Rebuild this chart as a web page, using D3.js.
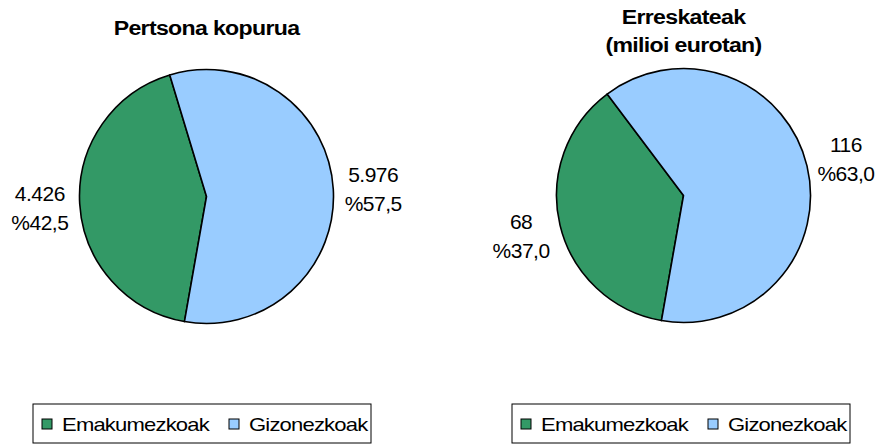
<!DOCTYPE html>
<html>
<head>
<meta charset="utf-8">
<script src="https://cdn.jsdelivr.net/npm/d3@7"></script>
<style>
  body { margin: 0; background: #fff; }
  svg text { font-family: "Liberation Sans", Arial, sans-serif; fill: #000; }
</style>
</head>
<body>
<div id="chart"></div>
<script>
// data
const categories = ['Emakumezkoak', 'Gizonezkoak'];
const colors = ['#339966', '#99ccff'];

const personValues = [4426, 5976];
const personPercent = [42.5, 57.5];

const rescueValues = [68, 116];
const rescuePercent = [37.0, 63.0];

const titles = [['Pertsona kopurua'], ['Erreskateak', '(milioi eurotan)']];

const width = 880, height = 446;

const svg = d3.select('#chart')
    .append('svg')
    .attr('width', width)
    .attr('height', height);

// basque style numbers: 4.426 and %42,5
const locale = d3.formatLocale({ decimal: ',', thousands: '.', grouping: [3], currency: ['', ''] });
const fmtValue = locale.format(',d');
const fmtPct = v => '%' + locale.format('.1f')(v);

const charts = [
    { cx: 206.5, cy: 196.5, values: personValues, pcts: personPercent, title: titles[0], titleY: 35, legendX: 33 },
    { cx: 683.5, cy: 195.5, values: rescueValues, pcts: rescuePercent, title: titles[1], titleY: 24, legendX: 512 }
];

const radius = 127;
const labelRadius = 167;
const start = 190 * Math.PI / 180;

const pie = d3.pie().sort(null).startAngle(start).endAngle(start + 2 * Math.PI);
const arc = d3.arc().innerRadius(0).outerRadius(radius);
const labelArc = d3.arc().innerRadius(labelRadius).outerRadius(labelRadius);

charts.forEach(c => {
    const g = svg.append('g').attr('transform', `translate(${c.cx},${c.cy})`);
    const arcs = pie(c.values);

    g.selectAll('path')
        .data(arcs)
        .enter()
        .append('path')
        .attr('d', arc)
        .attr('fill', (d, i) => colors[i])
        .attr('stroke', '#000')
        .attr('stroke-width', 1.6)
        .attr('stroke-linejoin', 'round');

    // value + percent labels outside the pie
    const lab = g.selectAll('g.lab')
        .data(arcs)
        .enter()
        .append('g')
        .attr('class', 'lab')
        .attr('transform', d => {
            const p = labelArc.centroid(d);
            return `translate(${p[0]},${p[1]})`;
        });
    lab.append('text')
        .attr('text-anchor', 'middle')
        .attr('y', -5)
        .style('font-size', '21px')
        .style('letter-spacing', '-0.5px')
        .text((d, i) => fmtValue(c.values[i]));
    lab.append('text')
        .attr('text-anchor', 'middle')
        .attr('y', 24)
        .style('font-size', '21px')
        .style('letter-spacing', '-0.5px')
        .text((d, i) => fmtPct(c.pcts[i]));

    // title
    c.title.forEach((t, k) => {
        svg.append('text')
            .attr('text-anchor', 'middle')
            .attr('transform', `translate(${c.cx},${c.titleY + k * 28}) scale(1.1,1)`)
            .style('font-size', '21px')
            .style('font-weight', 'bold')
            .style('letter-spacing', '-0.6px')
            .text(t);
    });

    // legend box
    const lg = svg.append('g').attr('transform', `translate(${c.legendX},404)`);
    lg.append('rect')
        .attr('width', 338)
        .attr('height', 39)
        .attr('fill', '#fff')
        .attr('stroke', '#000')
        .attr('stroke-width', 1);
    const itemX = [9, 196];
    categories.forEach((name, i) => {
        lg.append('rect')
            .attr('x', itemX[i])
            .attr('y', 15)
            .attr('width', 10)
            .attr('height', 10)
            .attr('fill', colors[i])
            .attr('stroke', '#000')
            .attr('stroke-width', 1);
        lg.append('text')
            .attr('transform', `translate(${itemX[i] + 20},27) scale(1.16,1)`)
            .style('font-size', '19px')
            .style('letter-spacing', '-0.7px')
            .text(name);
    });
});
</script>
</body>
</html>
